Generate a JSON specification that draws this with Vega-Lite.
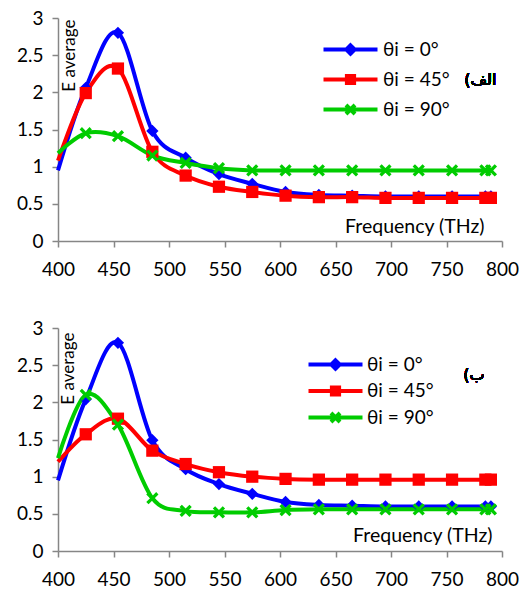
{
  "$schema": "https://vega.github.io/schema/vega-lite/v6.json",
  "padding": {"left": 16, "top": 9, "right": 0, "bottom": 0},
  "background": "white",
  "datasets": {
    "top": [
      {"series": "θi = 0°", "f": 400, "E": 0.95}, {"series": "θi = 0°", "f": 425, "E": 2.06}, {"series": "θi = 0°", "f": 454, "E": 2.8}, {"series": "θi = 0°", "f": 485, "E": 1.48}, {"series": "θi = 0°", "f": 515, "E": 1.12}, {"series": "θi = 0°", "f": 545, "E": 0.9}, {"series": "θi = 0°", "f": 575, "E": 0.77}, {"series": "θi = 0°", "f": 605, "E": 0.66}, {"series": "θi = 0°", "f": 635, "E": 0.62}, {"series": "θi = 0°", "f": 665, "E": 0.61}, {"series": "θi = 0°", "f": 695, "E": 0.6}, {"series": "θi = 0°", "f": 725, "E": 0.6}, {"series": "θi = 0°", "f": 755, "E": 0.6}, {"series": "θi = 0°", "f": 785, "E": 0.6}, {"series": "θi = 0°", "f": 790, "E": 0.6},
      {"series": "θi = 45°", "f": 400, "E": 1.08}, {"series": "θi = 45°", "f": 425, "E": 1.99}, {"series": "θi = 45°", "f": 454, "E": 2.32}, {"series": "θi = 45°", "f": 485, "E": 1.2}, {"series": "θi = 45°", "f": 515, "E": 0.88}, {"series": "θi = 45°", "f": 545, "E": 0.73}, {"series": "θi = 45°", "f": 575, "E": 0.66}, {"series": "θi = 45°", "f": 605, "E": 0.61}, {"series": "θi = 45°", "f": 635, "E": 0.59}, {"series": "θi = 45°", "f": 665, "E": 0.59}, {"series": "θi = 45°", "f": 695, "E": 0.58}, {"series": "θi = 45°", "f": 725, "E": 0.58}, {"series": "θi = 45°", "f": 755, "E": 0.58}, {"series": "θi = 45°", "f": 785, "E": 0.58}, {"series": "θi = 45°", "f": 790, "E": 0.58},
      {"series": "θi = 90°", "f": 400, "E": 1.18}, {"series": "θi = 90°", "f": 425, "E": 1.45}, {"series": "θi = 90°", "f": 454, "E": 1.41}, {"series": "θi = 90°", "f": 485, "E": 1.15}, {"series": "θi = 90°", "f": 515, "E": 1.05}, {"series": "θi = 90°", "f": 545, "E": 0.98}, {"series": "θi = 90°", "f": 575, "E": 0.95}, {"series": "θi = 90°", "f": 605, "E": 0.95}, {"series": "θi = 90°", "f": 635, "E": 0.95}, {"series": "θi = 90°", "f": 665, "E": 0.95}, {"series": "θi = 90°", "f": 695, "E": 0.95}, {"series": "θi = 90°", "f": 725, "E": 0.95}, {"series": "θi = 90°", "f": 755, "E": 0.95}, {"series": "θi = 90°", "f": 785, "E": 0.95}, {"series": "θi = 90°", "f": 790, "E": 0.95}
    ],
    "bottom": [
      {"series": "θi = 0°", "f": 400, "E": 0.95}, {"series": "θi = 0°", "f": 425, "E": 2.04}, {"series": "θi = 0°", "f": 454, "E": 2.8}, {"series": "θi = 0°", "f": 485, "E": 1.49}, {"series": "θi = 0°", "f": 515, "E": 1.1}, {"series": "θi = 0°", "f": 545, "E": 0.9}, {"series": "θi = 0°", "f": 575, "E": 0.77}, {"series": "θi = 0°", "f": 605, "E": 0.66}, {"series": "θi = 0°", "f": 635, "E": 0.62}, {"series": "θi = 0°", "f": 665, "E": 0.61}, {"series": "θi = 0°", "f": 695, "E": 0.6}, {"series": "θi = 0°", "f": 725, "E": 0.6}, {"series": "θi = 0°", "f": 755, "E": 0.6}, {"series": "θi = 0°", "f": 785, "E": 0.6}, {"series": "θi = 0°", "f": 790, "E": 0.6},
      {"series": "θi = 45°", "f": 400, "E": 1.2}, {"series": "θi = 45°", "f": 425, "E": 1.57}, {"series": "θi = 45°", "f": 454, "E": 1.78}, {"series": "θi = 45°", "f": 485, "E": 1.35}, {"series": "θi = 45°", "f": 515, "E": 1.17}, {"series": "θi = 45°", "f": 545, "E": 1.06}, {"series": "θi = 45°", "f": 575, "E": 1.0}, {"series": "θi = 45°", "f": 605, "E": 0.97}, {"series": "θi = 45°", "f": 635, "E": 0.96}, {"series": "θi = 45°", "f": 665, "E": 0.96}, {"series": "θi = 45°", "f": 695, "E": 0.96}, {"series": "θi = 45°", "f": 725, "E": 0.96}, {"series": "θi = 45°", "f": 755, "E": 0.96}, {"series": "θi = 45°", "f": 785, "E": 0.96}, {"series": "θi = 45°", "f": 790, "E": 0.96},
      {"series": "θi = 90°", "f": 400, "E": 1.25}, {"series": "θi = 90°", "f": 425, "E": 2.1}, {"series": "θi = 90°", "f": 454, "E": 1.7}, {"series": "θi = 90°", "f": 485, "E": 0.71}, {"series": "θi = 90°", "f": 515, "E": 0.54}, {"series": "θi = 90°", "f": 545, "E": 0.52}, {"series": "θi = 90°", "f": 575, "E": 0.52}, {"series": "θi = 90°", "f": 605, "E": 0.55}, {"series": "θi = 90°", "f": 635, "E": 0.56}, {"series": "θi = 90°", "f": 665, "E": 0.56}, {"series": "θi = 90°", "f": 695, "E": 0.56}, {"series": "θi = 90°", "f": 725, "E": 0.56}, {"series": "θi = 90°", "f": 755, "E": 0.56}, {"series": "θi = 90°", "f": 785, "E": 0.56}, {"series": "θi = 90°", "f": 790, "E": 0.56}
    ]
  },
  "bounds": "flush",
  "spacing": 87,
  "resolve": {"scale": {"color": "independent", "shape": "independent", "fill": "independent", "stroke": "independent"}},
  "vconcat": [
    {
      "width": 444,
      "height": 223,
      "data": {"name": "top"},
      "resolve": {"scale": {"shape": "independent", "fill": "independent", "stroke": "independent"}},
      "encoding": {
        "x": {"field": "f", "type": "quantitative", "scale": {"domain": [400, 800], "nice": false},
          "axis": {"values": [400, 450, 500, 550, 600, 650, 700, 750, 800], "title": "Frequency (THz)", "titleX": 426, "titleY": -9, "titleAlign": "right", "titleBaseline": "alphabetic", "titleAngle": 0}},
        "y": {"field": "E", "type": "quantitative", "scale": {"domain": [0, 3], "nice": false},
          "axis": {"values": [0, 0.5, 1, 1.5, 2, 2.5, 3], "format": "~g", "title": "E average", "titleX": 3, "titleY": 1, "titleAngle": 270, "titleAlign": "right", "titleBaseline": "top"}}
      },
      "layer": [
        {
          "mark": {"type": "line", "interpolate": "cardinal", "strokeWidth": 4},
          "encoding": {
            "color": {"field": "series", "type": "nominal", "scale": {"domain": ["θi = 0°", "θi = 45°", "θi = 90°"], "range": ["#0000FF", "#FF0000", "#00CC00"]}, "legend": null}
          }
        },
        {
          "transform": [{"filter": "datum.f > 400"}],
          "mark": {"type": "point", "filled": true, "opacity": 1, "size": 150},
          "encoding": {
            "color": {"field": "series", "type": "nominal", "scale": {"domain": ["θi = 0°", "θi = 45°", "θi = 90°"], "range": ["#0000FF", "#FF0000", "#00CC00"]}, "legend": null},
            "shape": {"field": "series", "type": "nominal", "scale": {"domain": ["θi = 0°", "θi = 45°", "θi = 90°"], "range": ["diamond", "square", "M-1,-0.62L-0.62,-1L0,-0.38L0.62,-1L1,-0.62L0.38,0L1,0.62L0.62,1L0,0.38L-0.62,1L-1,0.62L-0.38,0Z"]}, "legend": null}
          }
        },
        {
          "transform": [{"filter": "datum.f < 0"}],
          "mark": {"type": "point", "filled": true},
          "encoding": {
            "fill": {"field": "series", "type": "nominal", "scale": {"domain": ["θi = 0°", "θi = 45°", "θi = 90°"], "range": ["#0000FF", "#FF0000", "#00CC00"]},
              "legend": {"title": null, "orient": "none", "legendX": 283, "legendY": 22, "rowPadding": 5, "padding": 0, "symbolSize": 144, "symbolStrokeWidth": 4, "symbolOpacity": 1, "labelOffset": 23, "labelFont": "Lato", "labelFontSize": 19, "labelColor": "black", "labelLimit": 200}},
            "stroke": {"field": "series", "type": "nominal", "scale": {"domain": ["θi = 0°", "θi = 45°", "θi = 90°"], "range": ["#0000FF", "#FF0000", "#00CC00"]},
              "legend": {"title": null, "orient": "none", "legendX": 283, "legendY": 22, "rowPadding": 5, "padding": 0, "symbolSize": 144, "symbolStrokeWidth": 4, "symbolOpacity": 1, "labelOffset": 23, "labelFont": "Lato", "labelFontSize": 19, "labelColor": "black", "labelLimit": 200}},
            "shape": {"field": "series", "type": "nominal", "scale": {"domain": ["θi = 0°", "θi = 45°", "θi = 90°"], "range": ["M-4.5,0H4.5M0,-0.7L0.7,0L0,0.7L-0.7,0Z", "M-4.5,0H4.5M-0.6,-0.6H0.6V0.6H-0.6Z", "M-4.5,0H4.5M-0.75,-0.75L0.75,0.75M-0.75,0.75L0.75,-0.75"]},
              "legend": {"title": null, "orient": "none", "legendX": 283, "legendY": 22, "rowPadding": 5, "padding": 0, "symbolSize": 144, "symbolStrokeWidth": 4, "symbolOpacity": 1, "labelOffset": 23, "labelFont": "Lato", "labelFontSize": 19, "labelColor": "black", "labelLimit": 200}}
          }
        },
        {
          "mark": {"type": "text", "text": "الف)‏", "font": "DejaVu Sans", "fontSize": 16, "align": "left", "baseline": "middle", "color": "black"},
          "encoding": {"x": {"datum": 766}, "y": {"datum": 2.17}}
        }
      ]
    },
    {
      "width": 444,
      "height": 223,
      "data": {"name": "bottom"},
      "resolve": {"scale": {"shape": "independent", "fill": "independent", "stroke": "independent"}},
      "encoding": {
        "x": {"field": "f", "type": "quantitative", "scale": {"domain": [400, 800], "nice": false},
          "axis": {"values": [400, 450, 500, 550, 600, 650, 700, 750, 800], "title": "Frequency (THz)", "titleX": 434, "titleY": -10, "titleAlign": "right", "titleBaseline": "alphabetic", "titleAngle": 0}},
        "y": {"field": "E", "type": "quantitative", "scale": {"domain": [0, 3], "nice": false},
          "axis": {"values": [0, 0.5, 1, 1.5, 2, 2.5, 3], "format": "~g", "title": "E average", "titleX": 2, "titleY": 4, "titleAngle": 270, "titleAlign": "right", "titleBaseline": "top"}}
      },
      "layer": [
        {
          "mark": {"type": "line", "interpolate": "cardinal", "strokeWidth": 4},
          "encoding": {
            "color": {"field": "series", "type": "nominal", "scale": {"domain": ["θi = 0°", "θi = 45°", "θi = 90°"], "range": ["#0000FF", "#FF0000", "#00CC00"]}, "legend": null}
          }
        },
        {
          "transform": [{"filter": "datum.f > 400"}],
          "mark": {"type": "point", "filled": true, "opacity": 1, "size": 150},
          "encoding": {
            "color": {"field": "series", "type": "nominal", "scale": {"domain": ["θi = 0°", "θi = 45°", "θi = 90°"], "range": ["#0000FF", "#FF0000", "#00CC00"]}, "legend": null},
            "shape": {"field": "series", "type": "nominal", "scale": {"domain": ["θi = 0°", "θi = 45°", "θi = 90°"], "range": ["diamond", "square", "M-1,-0.62L-0.62,-1L0,-0.38L0.62,-1L1,-0.62L0.38,0L1,0.62L0.62,1L0,0.38L-0.62,1L-1,0.62L-0.38,0Z"]}, "legend": null}
          }
        },
        {
          "transform": [{"filter": "datum.f < 0"}],
          "mark": {"type": "point", "filled": true},
          "encoding": {
            "fill": {"field": "series", "type": "nominal", "scale": {"domain": ["θi = 0°", "θi = 45°", "θi = 90°"], "range": ["#0000FF", "#FF0000", "#00CC00"]},
              "legend": {"title": null, "orient": "none", "legendX": 268, "legendY": 27, "rowPadding": 1.5, "padding": 0, "symbolSize": 144, "symbolStrokeWidth": 4, "symbolOpacity": 1, "labelOffset": 22, "labelFont": "Lato", "labelFontSize": 19, "labelColor": "black", "labelLimit": 200}},
            "stroke": {"field": "series", "type": "nominal", "scale": {"domain": ["θi = 0°", "θi = 45°", "θi = 90°"], "range": ["#0000FF", "#FF0000", "#00CC00"]},
              "legend": {"title": null, "orient": "none", "legendX": 268, "legendY": 27, "rowPadding": 1.5, "padding": 0, "symbolSize": 144, "symbolStrokeWidth": 4, "symbolOpacity": 1, "labelOffset": 22, "labelFont": "Lato", "labelFontSize": 19, "labelColor": "black", "labelLimit": 200}},
            "shape": {"field": "series", "type": "nominal", "scale": {"domain": ["θi = 0°", "θi = 45°", "θi = 90°"], "range": ["M-4.5,0H4.5M0,-0.7L0.7,0L0,0.7L-0.7,0Z", "M-4.5,0H4.5M-0.6,-0.6H0.6V0.6H-0.6Z", "M-4.5,0H4.5M-0.75,-0.75L0.75,0.75M-0.75,0.75L0.75,-0.75"]},
              "legend": {"title": null, "orient": "none", "legendX": 268, "legendY": 27, "rowPadding": 1.5, "padding": 0, "symbolSize": 144, "symbolStrokeWidth": 4, "symbolOpacity": 1, "labelOffset": 22, "labelFont": "Lato", "labelFontSize": 19, "labelColor": "black", "labelLimit": 200}}
          }
        },
        {
          "mark": {"type": "text", "text": "ب)‏", "font": "DejaVu Sans", "fontSize": 16, "align": "left", "baseline": "middle", "color": "black"},
          "encoding": {"x": {"datum": 765}, "y": {"datum": 2.37}}
        }
      ]
    }
  ],
  "config": {
    "view": {"stroke": null},
    "font": "Lato",
    "axis": {
      "grid": false,
      "domainColor": "#868686",
      "domainWidth": 1.5,
      "tickColor": "#868686",
      "tickWidth": 1.5,
      "tickSize": 6,
      "labelFont": "Lato",
      "labelFontSize": 19,
      "labelColor": "black",
      "titleFont": "Lato",
      "titleFontWeight": "normal",
      "titleColor": "black"
    },
    "axisX": {"labelPadding": 13, "titleFontSize": 19.5, "labelFlush": false},
    "axisY": {"labelPadding": 9, "titleFontSize": 17}
  }
}
